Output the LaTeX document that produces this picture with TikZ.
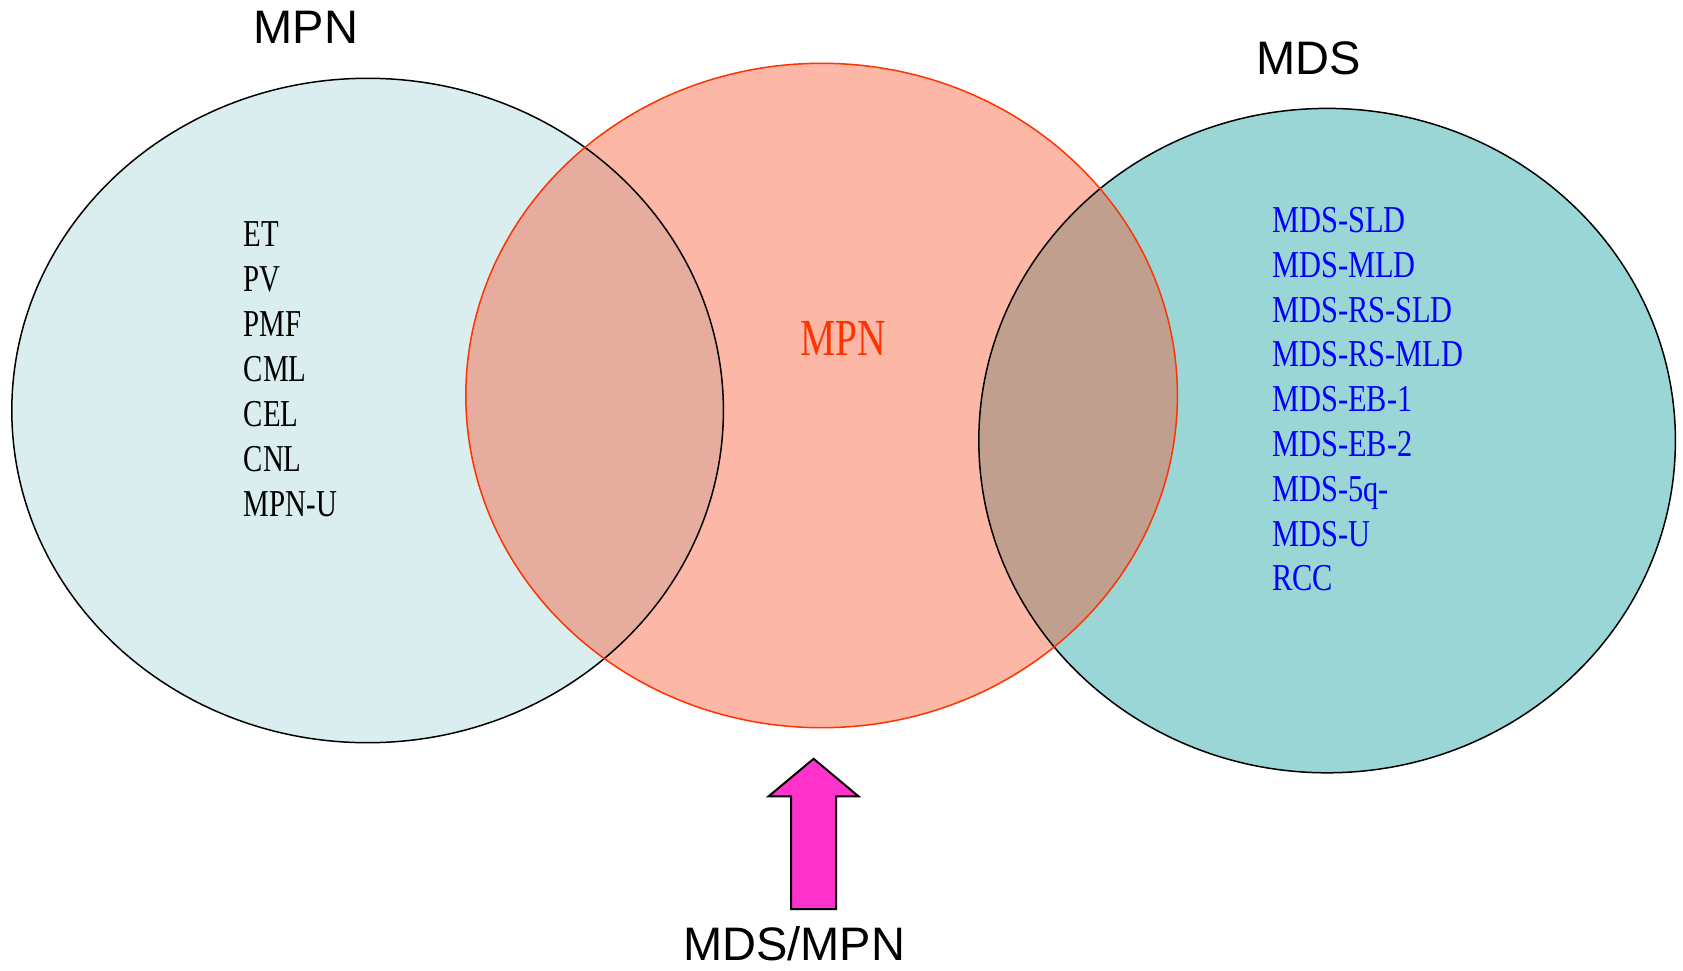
\documentclass[tikz,border=0pt]{standalone}
\usepackage{fontspec}
\setmainfont{Liberation Sans}
\newfontfamily\listfont[FakeStretch=0.76]{Liberation Serif}
\newfontfamily\bluefont[FakeStretch=0.8]{Liberation Serif}
\definecolor{leftfill}{RGB}{218,238,239}
\definecolor{rightfill}{RGB}{155,214,214}
\definecolor{midfill}{RGB}{250,77,37}
\definecolor{midline}{RGB}{255,51,0}
\definecolor{redtext}{RGB}{255,51,0}
\definecolor{bluetext}{RGB}{0,0,255}
\definecolor{arrowfill}{RGB}{255,51,204}
\begin{document}
\begin{tikzpicture}[x=1pt,y=-1pt,
  biglabel/.style={font=\fontsize{47}{47}\selectfont, inner sep=0pt},
  listitem/.style={font=\listfont\fontsize{38}{38}\selectfont, inner sep=0pt, anchor=base west},
  blackitem/.style={listitem, text=black},
  blueitem/.style={listitem, font=\bluefont\fontsize{38}{38}\selectfont, text=bluetext}]
\useasboundingbox (0,0) rectangle (1683,971);
\fill[white] (0,0) rectangle (1683,971);
% fills
\fill[leftfill] (367.6,410.5) ellipse [x radius=355.8, y radius=332.2];
\fill[rightfill] (1327.1,440.6) ellipse [x radius=348.3, y radius=332.2];
\fill[midfill, fill opacity=0.4] (821.6,395.5) ellipse [x radius=355.8, y radius=332.2];
% borders
\draw[black, line width=1.5pt] (367.6,410.5) ellipse [x radius=355.8, y radius=332.2];
\draw[black, line width=1.5pt] (1327.1,440.6) ellipse [x radius=348.3, y radius=332.2];
\draw[midline, line width=1.5pt] (821.6,395.5) ellipse [x radius=355.8, y radius=332.2];
% arrow
\draw[black, line width=2pt, fill=arrowfill, line join=miter]
  (813.6,758.8) -- (858.6,796.4) -- (836,796.4) -- (836,909) -- (791,909) -- (791,796.4) -- (768.5,796.4) -- cycle;
% labels
\node[biglabel] (lmpn) at (306,27) {MPN};
\node[biglabel] (rmds) at (1309,58) {MDS};
\node[biglabel] (bottom) at (794,944) {MDS/MPN};
\node[font=\listfont\fontsize{52}{52}\selectfont, text=redtext, inner sep=0pt, anchor=base] (cmpn) at (843.6,355.5) {MPN};
% left list
\node[blackitem] (l1) at (243.6,246.5) {ET};
\node[blackitem] (l2) at (243.6,291.5) {PV};
\node[blackitem] (l3) at (243.6,336.5) {PMF};
\node[blackitem] (l4) at (243.6,381.5) {CML};
\node[blackitem] (l5) at (243.6,426.5) {CEL};
\node[blackitem] (l6) at (243.6,471.5) {CNL};
\node[blackitem] (l7) at (243.6,516.5) {MPN-U};
% right list
\node[blueitem] (r1) at (1272,232.5) {MDS-SLD};
\node[blueitem] (r2) at (1272,277.3) {MDS-MLD};
\node[blueitem] (r3) at (1272,322.1) {MDS-RS-SLD};
\node[blueitem] (r4) at (1272,366.9) {MDS-RS-MLD};
\node[blueitem] (r5) at (1272,411.7) {MDS-EB-1};
\node[blueitem] (r6) at (1272,456.5) {MDS-EB-2};
\node[blueitem] (r7) at (1272,501.3) {MDS-5q-};
\node[blueitem] (r8) at (1272,546.1) {MDS-U};
\node[blueitem] (r9) at (1272,590.9) {RCC};
\end{tikzpicture}
\end{document}
